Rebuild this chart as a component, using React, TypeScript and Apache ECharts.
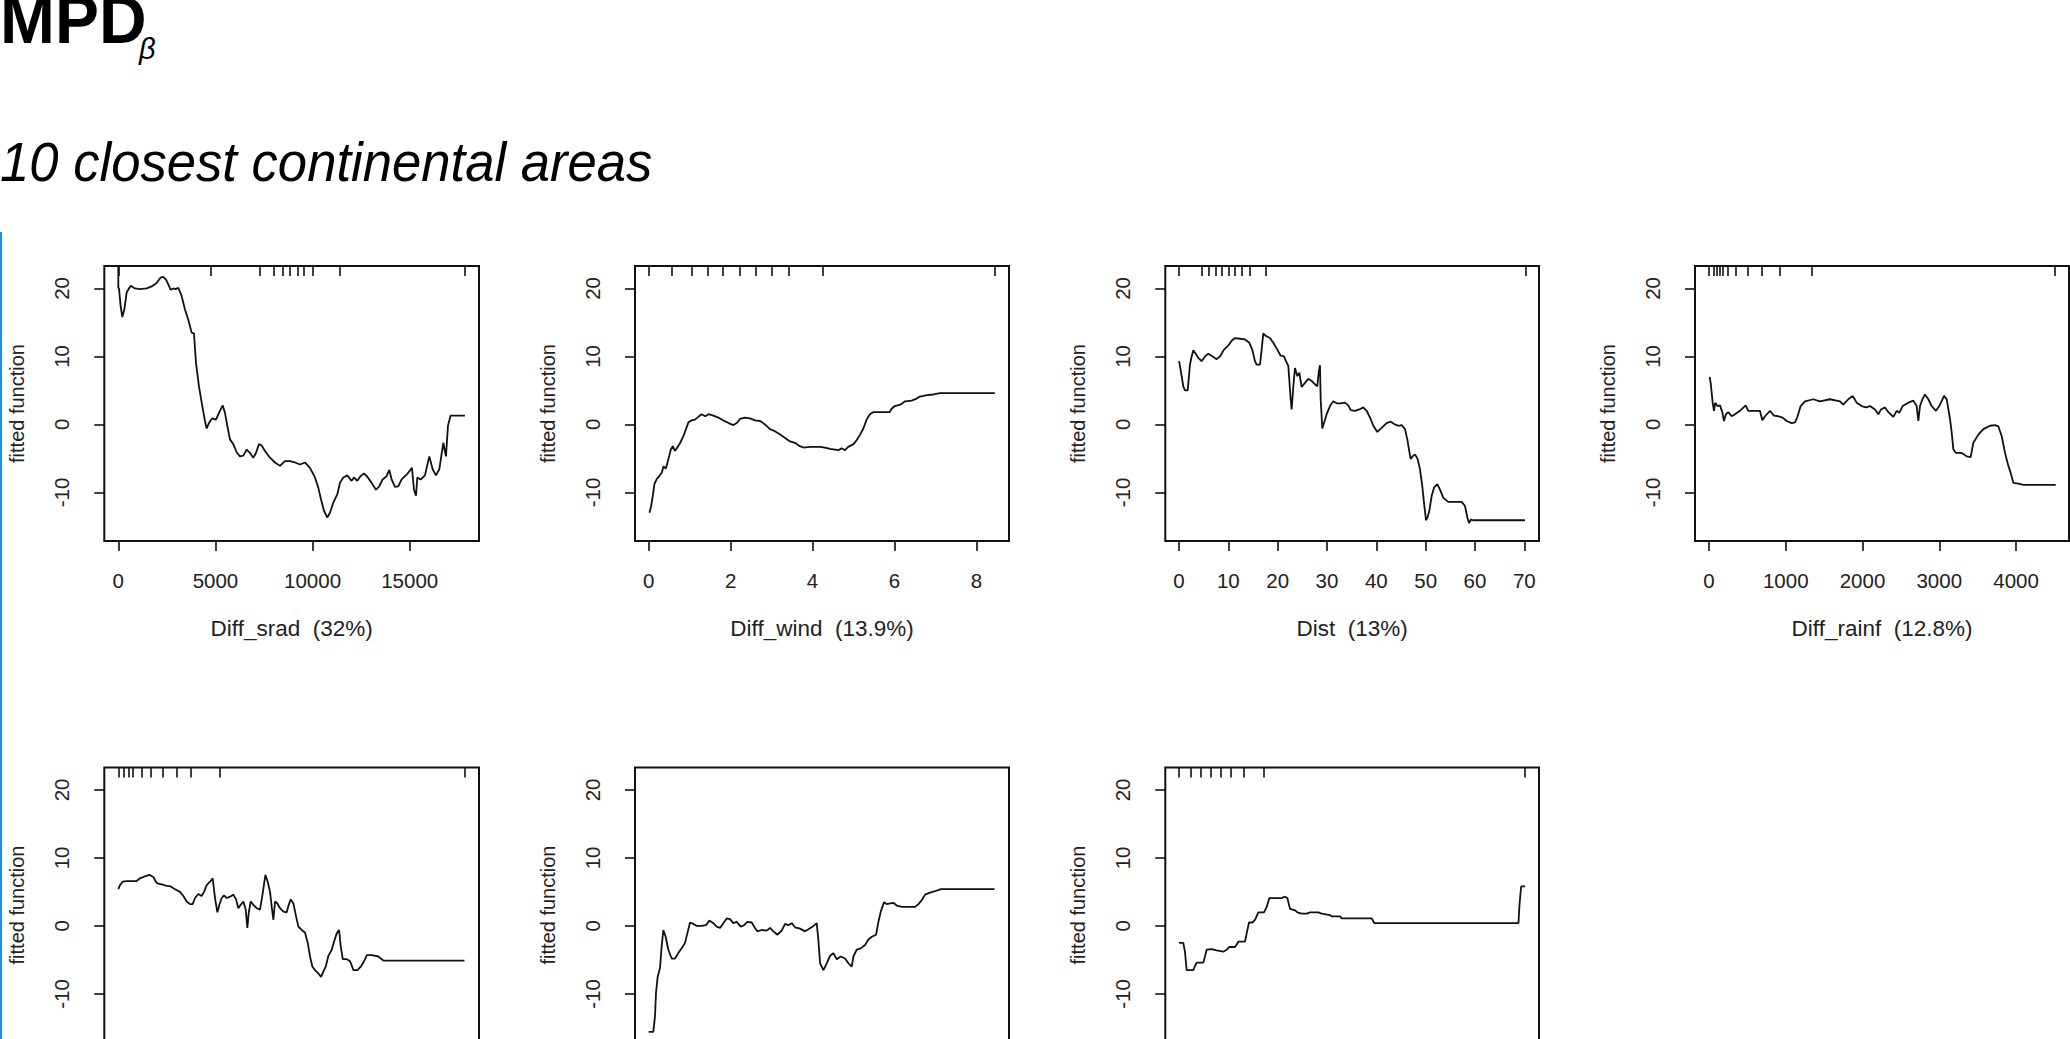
import React, { useEffect, useRef } from "react";
import * as echarts from "echarts";

const FONT = '"Liberation Sans", Arial, Helvetica, sans-serif';
const TEXT_COLOR = "#222";

// ---------- Panel 1: Diff_srad ----------
const sradX = [0, 0, 34, 120, 206, 309, 429, 635, 858, 1115, 1459, 1716, 1973, 2179, 2317, 2454, 2574, 2694, 2831, 2952, 3089, 3260, 3432, 3604, 3775, 3895, 3998, 4153, 4324, 4462, 4547, 4685, 4839, 5028, 5182, 5371, 5491, 5611, 5749, 5920, 6092, 6263, 6435, 6607, 6778, 6950, 7087, 7242, 7379, 7550, 7808, 8065, 8323, 8580, 8837, 9095, 9352, 9610, 9867, 10124, 10296, 10433, 10588, 10759, 10897, 11068, 11274, 11411, 11583, 11789, 12012, 12132, 12304, 12476, 12647, 12819, 13042, 13265, 13436, 13608, 13814, 13951, 14071, 14243, 14414, 14586, 14843, 15118, 15221, 15324, 15393, 15564, 15787, 16010, 16182, 16353, 16525, 16731, 16868, 16971, 17109, 17332, 17846];
const sradY = [23.6, 20.1, 20.0, 17.4, 15.8, 16.9, 19.4, 20.4, 20.0, 19.9, 20.0, 20.3, 20.8, 21.6, 21.7, 21.3, 20.6, 19.8, 20.0, 19.9, 20.1, 18.9, 16.9, 15.4, 13.5, 13.4, 9.1, 5.6, 2.7, 0.5, -0.6, 0.3, 0.9, 0.7, 1.7, 2.8, 1.7, -0.2, -2.2, -2.9, -4.1, -4.7, -4.6, -3.7, -4.2, -4.9, -4.2, -2.9, -3.1, -3.9, -4.9, -5.6, -6.1, -5.4, -5.4, -5.6, -5.9, -5.6, -6.4, -7.8, -9.3, -11.0, -12.7, -13.7, -13.0, -11.5, -10.3, -8.6, -7.8, -7.5, -8.3, -7.8, -8.3, -7.6, -7.2, -7.7, -8.6, -9.6, -9.1, -8.1, -7.6, -6.7, -8.1, -9.2, -9.1, -8.1, -7.4, -6.4, -9.6, -10.5, -7.8, -8.1, -7.5, -4.7, -6.6, -7.5, -6.6, -2.7, -4.7, -0.2, 1.3, 1.3, 1.3];
const sradRug = [0, 4770, 7293, 7980, 8460, 8837, 9232, 9558, 9987, 11411, 17812];
const sradTicks = [0, 5000, 10000, 15000];

// ---------- Panel 2: Diff_wind ----------
const windX = [0.02, 0.06, 0.1, 0.14, 0.2, 0.26, 0.32, 0.36, 0.42, 0.46, 0.5, 0.54, 0.59, 0.64, 0.7, 0.77, 0.85, 0.91, 0.97, 1.05, 1.13, 1.21, 1.29, 1.38, 1.46, 1.58, 1.7, 1.82, 1.95, 2.07, 2.15, 2.23, 2.35, 2.47, 2.6, 2.72, 2.84, 2.96, 3.08, 3.21, 3.33, 3.45, 3.57, 3.69, 3.78, 3.94, 4.18, 4.3, 4.43, 4.55, 4.63, 4.71, 4.79, 4.87, 5.0, 5.08, 5.16, 5.24, 5.32, 5.4, 5.48, 5.65, 5.88, 5.93, 6.01, 6.14, 6.26, 6.42, 6.54, 6.62, 6.79, 6.95, 7.11, 7.44, 8.45];
const windY = [-13.0, -12.0, -10.5, -8.8, -8.0, -7.6, -7.1, -6.2, -6.5, -5.6, -4.7, -3.7, -3.2, -3.9, -3.4, -2.7, -1.7, -0.7, 0.3, 0.6, 0.7, 1.1, 1.5, 1.2, 1.5, 1.3, 1.0, 0.6, 0.2, -0.1, 0.2, 0.8, 1.0, 0.9, 0.6, 0.5, 0.0, -0.7, -1.0, -1.5, -2.0, -2.5, -2.7, -3.2, -3.4, -3.3, -3.3, -3.4, -3.6, -3.7, -3.8, -3.5, -3.8, -3.3, -2.9, -2.3, -1.5, -0.6, 0.7, 1.5, 1.8, 1.8, 1.8, 2.3, 2.7, 2.9, 3.4, 3.5, 3.8, 4.1, 4.3, 4.4, 4.6, 4.6, 4.6];
const windRug = [0, 0.56, 1.05, 1.44, 1.82, 2.23, 2.61, 3.0, 3.43, 4.26, 8.44];
const windTicks = [0, 2, 4, 6, 8];

// ---------- Panel 3: Dist ----------
const distX = [0, 0.2, 0.54, 0.88, 1.22, 1.76, 2.03, 2.23, 2.57, 2.91, 3.38, 3.92, 4.59, 5.27, 5.95, 6.82, 7.64, 8.31, 9.12, 10.0, 10.68, 11.35, 12.36, 13.38, 14.26, 14.86, 15.41, 15.74, 16.42, 16.76, 17.09, 17.64, 18.45, 19.12, 19.93, 20.61, 21.28, 21.69, 22.16, 22.36, 22.64, 22.84, 23.18, 23.51, 23.99, 24.39, 24.86, 25.54, 26.22, 26.89, 27.57, 28.04, 28.31, 28.58, 28.72, 29.05, 29.39, 29.93, 30.61, 31.28, 31.96, 32.77, 33.65, 34.32, 34.8, 35.68, 36.55, 37.36, 38.04, 38.72, 39.39, 40.2, 41.08, 42.09, 42.91, 43.78, 44.46, 45.14, 45.81, 46.28, 46.62, 46.96, 47.36, 47.84, 48.38, 48.85, 49.32, 49.66, 50.07, 50.41, 50.74, 51.22, 51.69, 52.36, 52.91, 53.58, 54.59, 55.61, 57.3, 57.97, 58.45, 58.78, 59.19, 59.66, 63.04, 70.14];
const distY = [9.3, 8.6, 7.1, 5.6, 5.0, 5.0, 7.1, 8.8, 10.0, 10.9, 10.4, 9.8, 9.3, 10.0, 10.4, 10.0, 9.6, 10.0, 11.0, 11.6, 12.3, 12.7, 12.6, 12.5, 12.0, 11.0, 9.3, 8.8, 8.8, 11.0, 13.4, 13.0, 12.7, 12.0, 11.0, 10.1, 10.0, 9.3, 8.6, 6.6, 3.7, 2.2, 5.6, 8.3, 7.1, 7.6, 5.5, 6.1, 6.7, 6.4, 5.9, 5.6, 7.6, 8.7, 3.7, -0.6, 0.2, 1.5, 2.7, 3.4, 3.1, 3.1, 3.2, 2.8, 2.1, 2.0, 2.2, 2.5, 2.0, 1.0, -0.2, -1.1, -0.5, 0.2, 0.4, 0.0, -0.2, -0.1, -0.7, -2.2, -3.7, -5.1, -4.7, -4.4, -5.1, -6.6, -9.1, -11.5, -14.1, -13.6, -12.7, -10.5, -9.3, -8.8, -9.6, -10.8, -11.4, -11.4, -11.4, -12.0, -13.7, -14.5, -14.0, -14.1, -14.1, -14.1];
const distRug = [0, 4.64, 6.08, 7.4, 8.7, 10.1, 11.4, 12.8, 14.4, 17.5, 70.2];
const distTicks = [0, 10, 20, 30, 40, 50, 60, 70];

// ---------- Panel 4: Diff_rainf ----------
const rainX = [9, 22, 35, 48, 65, 82, 109, 143, 174, 195, 221, 252, 295, 339, 404, 478, 512, 578, 664, 695, 730, 795, 847, 903, 960, 1012, 1077, 1121, 1155, 1194, 1251, 1359, 1446, 1576, 1707, 1750, 1815, 1872, 1924, 1989, 2046, 2098, 2163, 2206, 2241, 2293, 2337, 2402, 2445, 2480, 2523, 2597, 2662, 2706, 2727, 2749, 2780, 2814, 2858, 2901, 2958, 3010, 3062, 3097, 3119, 3141, 3162, 3184, 3218, 3292, 3357, 3409, 3444, 3509, 3574, 3661, 3726, 3770, 3813, 3857, 3900, 3930, 3965, 4030, 4095, 4517];
const rainY = [7.0, 6.1, 4.7, 3.2, 2.0, 3.2, 2.7, 2.8, 1.8, 0.5, 1.5, 1.8, 1.2, 1.5, 2.0, 2.8, 2.0, 2.0, 2.0, 0.6, 1.2, 2.0, 1.3, 1.2, 1.0, 0.5, 0.2, 0.3, 1.2, 2.7, 3.4, 3.7, 3.4, 3.7, 3.4, 2.9, 3.7, 4.2, 3.2, 2.7, 2.5, 2.7, 2.2, 1.5, 2.2, 2.5, 1.8, 1.1, 2.0, 1.7, 2.7, 3.2, 3.5, 2.7, 0.5, 2.7, 3.7, 4.4, 3.7, 2.7, 2.0, 2.9, 4.2, 3.7, 2.2, 0.7, -1.2, -3.7, -4.2, -4.2, -4.7, -4.8, -2.7, -1.5, -0.7, -0.2, -0.1, -0.3, -1.7, -4.2, -6.1, -7.1, -8.6, -8.7, -8.9, -8.9];
const rainRug = [0, 56, 100, 143, 186, 244, 348, 504, 687, 925, 1338, 4508];
const rainTicks = [0, 1000, 2000, 3000, 4000];

// ---------- Panel 5 (row 2, x axis cut off; position in % of range) ----------
const p5X = [0, 0.48, 1.25, 2.41, 3.85, 5.3, 6.26, 7.71, 8.96, 10.12, 11.08, 12.52, 13.97, 15.13, 16.38, 17.82, 18.79, 19.75, 20.71, 21.48, 22.16, 23.12, 24.08, 24.76, 25.53, 26.49, 27.26, 27.94, 28.61, 29.19, 29.87, 30.54, 31.31, 32.27, 33.24, 34.01, 34.68, 35.36, 36.13, 36.8, 37.28, 37.67, 38.25, 39.02, 39.98, 40.94, 41.71, 42.49, 43.16, 43.83, 44.32, 44.8, 45.28, 45.95, 46.72, 47.69, 48.65, 49.23, 49.81, 50.58, 51.35, 52.02, 52.99, 53.95, 54.72, 55.39, 56.07, 56.84, 57.8, 58.57, 59.25, 59.92, 60.69, 61.66, 62.33, 63.1, 63.78, 64.26, 64.84, 65.99, 66.96, 67.92, 69.08, 70.04, 71.0, 71.77, 73.22, 75.14, 76.59, 81.41, 100];
const p5Y = [5.4, 6.0, 6.5, 6.6, 6.6, 6.6, 7.0, 7.3, 7.5, 7.2, 6.3, 6.1, 5.9, 5.8, 5.4, 5.0, 4.4, 3.6, 3.2, 3.2, 4.1, 4.7, 4.4, 5.0, 6.0, 6.5, 7.0, 4.1, 2.0, 3.1, 4.1, 4.5, 4.1, 4.3, 4.6, 3.9, 2.6, 3.1, 3.6, 2.4, -0.3, 1.9, 3.6, 3.1, 2.6, 2.4, 4.8, 7.5, 6.5, 5.0, 2.8, 0.9, 3.6, 3.3, 2.6, 2.1, 2.0, 3.1, 3.9, 3.3, 1.4, -0.1, -0.6, -1.0, -2.5, -4.5, -6.0, -6.5, -7.0, -7.5, -6.7, -6.0, -4.4, -3.5, -2.3, -1.1, -0.6, -3.0, -4.9, -4.9, -5.2, -6.5, -6.5, -6.0, -5.2, -4.3, -4.3, -4.5, -5.1, -5.1, -5.1];
const p5Rug = [0, 1.45, 2.9, 4.3, 6.8, 9.4, 12.9, 16.9, 21.0, 29.2, 100];

// ---------- Panel 6 ----------
const p6X = [0, 1.35, 1.83, 2.12, 2.6, 3.28, 3.76, 4.24, 4.92, 5.69, 6.65, 7.62, 8.58, 9.55, 10.51, 11.19, 11.96, 12.92, 13.89, 15.33, 16.59, 17.55, 18.71, 19.67, 20.64, 21.6, 22.57, 23.53, 24.49, 25.46, 26.62, 27.58, 28.54, 29.8, 30.76, 31.44, 32.69, 34.14, 35.1, 36.07, 37.22, 38.48, 39.44, 40.41, 41.37, 42.33, 43.78, 45.23, 46.19, 47.44, 48.6, 49.08, 49.57, 50.53, 51.49, 52.46, 53.42, 54.39, 55.54, 56.8, 57.76, 58.73, 59.21, 60.17, 61.33, 62.58, 63.55, 64.51, 65.77, 66.44, 67.12, 68.08, 68.85, 69.82, 70.78, 71.75, 73.19, 75.6, 77.05, 78.01, 78.98, 79.94, 81.39, 82.84, 84.48, 88.14, 100];
const p6Y = [-15.6, -15.6, -13.3, -9.9, -7.5, -6.2, -3.0, -0.6, -1.6, -3.5, -4.8, -4.8, -4.0, -3.3, -2.5, -1.1, 0.5, 0.3, 0.0, 0.0, 0.1, 0.8, 0.4, -0.1, -0.3, 0.4, 1.1, 1.0, 0.4, 0.6, -0.1, 0.1, 0.6, 0.5, -0.3, -0.8, -0.6, -0.7, -0.3, -0.8, -1.3, -0.7, 0.3, 0.1, 0.4, -0.2, -0.4, -0.8, -0.5, -0.1, 0.4, -2.1, -5.5, -6.5, -5.5, -4.4, -4.0, -4.9, -4.5, -4.8, -5.5, -6.0, -4.5, -3.5, -3.3, -2.8, -2.0, -1.6, -1.3, 0.6, 2.1, 3.5, 3.2, 3.3, 3.4, 3.0, 2.8, 2.8, 2.8, 3.2, 3.8, 4.6, 4.9, 5.1, 5.4, 5.4, 5.4];
const p6Rug: number[] = [];

// ---------- Panel 7 ----------
const p7X = [0, 1.25, 1.73, 2.22, 4.14, 4.62, 5.11, 7.03, 7.51, 8.0, 9.44, 10.89, 12.81, 13.78, 14.55, 16.18, 16.86, 17.15, 19.08, 19.56, 20.23, 21.19, 21.97, 22.93, 24.57, 25.34, 26.11, 29.67, 30.64, 31.31, 32.08, 33.53, 34.2, 35.45, 36.9, 37.86, 40.27, 41.23, 43.64, 44.12, 46.53, 47.01, 55.68, 56.45, 98.07, 98.36, 98.84, 100];
const p7Y = [-2.5, -2.5, -3.8, -6.5, -6.5, -5.9, -5.4, -5.4, -4.5, -3.5, -3.4, -3.6, -3.8, -3.5, -3.1, -3.1, -2.6, -2.3, -2.3, -1.1, 0.5, 0.5, 0.9, 2.0, 2.0, 2.8, 4.1, 4.1, 4.3, 4.1, 2.5, 2.3, 2.0, 1.8, 1.8, 2.0, 2.0, 1.8, 1.6, 1.4, 1.4, 1.1, 1.1, 0.4, 0.4, 3.1, 5.8, 5.8];
const p7Rug = [0, 3.4, 6.4, 9.2, 12.1, 15.0, 18.6, 24.4, 100];

const yTicks = [-10, 0, 10, 20];
const yTitle = "fitted function";

type Panel = {
  left: number; top: number; width: number; height: number;
  xMin: number; xMax: number; xTicks: number[]; xName: string;
  xs: number[]; ys: number[]; rug: number[]; showBottom: boolean;
};

const ROW1 = 266;
const ROW2 = 767.5;
const H = 275;

const panels: Panel[] = [
  { left: 104.3, top: ROW1, width: 374.7, height: H, xMin: -721, xMax: 18569, xTicks: sradTicks, xName: "Diff_srad  (32%)", xs: sradX, ys: sradY, rug: sradRug, showBottom: true },
  { left: 635, top: ROW1, width: 374, height: H, xMin: -0.334, xMax: 8.796, xTicks: windTicks, xName: "Diff_wind  (13.9%)", xs: windX, ys: windY, rug: windRug, showBottom: true },
  { left: 1165.3, top: ROW1, width: 373.7, height: H, xMin: -2.77, xMax: 72.97, xTicks: distTicks, xName: "Dist  (13%)", xs: distX, ys: distY, rug: distRug, showBottom: true },
  { left: 1695, top: ROW1, width: 374, height: H, xMin: -182, xMax: 4690, xTicks: rainTicks, xName: "Diff_rainf  (12.8%)", xs: rainX, ys: rainY, rug: rainRug, showBottom: true },
  { left: 104.3, top: ROW2, width: 374.7, height: H, xMin: -4.05, xMax: 104.2, xTicks: [], xName: "", xs: p5X, ys: p5Y, rug: p5Rug, showBottom: false },
  { left: 635, top: ROW2, width: 374, height: H, xMin: -3.95, xMax: 104.2, xTicks: [], xName: "", xs: p6X, ys: p6Y, rug: p6Rug, showBottom: false },
  { left: 1165.3, top: ROW2, width: 373.7, height: H, xMin: -3.95, xMax: 104.0, xTicks: [], xName: "", xs: p7X, ys: p7Y, rug: p7Rug, showBottom: false },
];

function buildOption() {
  const grid: any[] = [];
  const xAxis: any[] = [];
  const yAxis: any[] = [];
  const series: any[] = [];

  panels.forEach((p, i) => {
    grid.push({
      left: p.left, top: p.top, width: p.width, height: p.height,
      show: true, borderColor: "#111", borderWidth: 2, backgroundColor: "transparent",
      containLabel: false, outerBoundsMode: "none",
    });
    // bottom axis
    xAxis.push({
      type: "value", gridIndex: i, position: "bottom", min: p.xMin, max: p.xMax,
      axisLine: { show: false, onZero: false },
      splitLine: { show: false },
      axisTick: { show: p.showBottom, customValues: p.xTicks, length: 10, inside: false, lineStyle: { color: "#111", width: 1.6 } },
      axisLabel: {
        show: p.showBottom, customValues: p.xTicks, margin: 29,
        fontFamily: FONT, fontSize: 20.5, color: TEXT_COLOR,
        formatter: (v: number) => String(v),
      },
      name: p.xName, nameLocation: "middle", nameGap: 76,
      nameTextStyle: { fontFamily: FONT, fontSize: 22.5, color: TEXT_COLOR },
    });
    // top rug axis
    xAxis.push({
      type: "value", gridIndex: i, position: "top", min: p.xMin, max: p.xMax,
      axisLine: { show: false, onZero: false },
      splitLine: { show: false },
      axisTick: { show: p.rug.length > 0, customValues: p.rug, length: 10, inside: true, lineStyle: { color: "#111", width: 1.6 } },
      axisLabel: { show: false },
    });
    yAxis.push({
      type: "value", gridIndex: i, min: -17.15, max: 23.3,
      axisLine: { show: false, onZero: false },
      splitLine: { show: false },
      axisTick: { show: true, customValues: yTicks, length: 10, inside: false, lineStyle: { color: "#111", width: 1.6 } },
      axisLabel: {
        show: true, customValues: yTicks, rotate: 90, margin: 32,
        fontFamily: FONT, fontSize: 20.5, color: TEXT_COLOR,
        formatter: (v: number) => String(v),
      },
      name: yTitle, nameLocation: "middle", nameGap: 77,
      nameTextStyle: { fontFamily: FONT, fontSize: 20, color: TEXT_COLOR },
    });
    series.push({
      type: "line",
      xAxisIndex: i * 2,
      yAxisIndex: i,
      data: p.xs.map((x, k) => [x, p.ys[k]]),
      showSymbol: false,
      symbol: "none",
      clip: true,
      lineStyle: { color: "#111", width: 1.8 },
      emphasis: { disabled: true },
      silent: true,
    });
  });

  const graphic: any[] = [
    {
      type: "text", x: 0, y: 0, scaleX: 0.97,
      style: { text: "MPD", x: 0, y: 53, font: `bold 68px ${FONT}`, fill: "#000", textVerticalAlign: "bottom" },
    },
    {
      type: "text", x: 0, y: 0,
      style: { text: "β", x: 139, y: 63, font: `italic 29px ${FONT}`, fill: "#000", textVerticalAlign: "bottom" },
    },
    {
      type: "text", x: 0, y: 0, scaleX: 0.94,
      style: { text: "10 closest continental areas", x: 0, y: 190, font: `italic 56px ${FONT}`, fill: "#000", textVerticalAlign: "bottom" },
    },
    {
      type: "line",
      shape: { x1: 1, y1: 232, x2: 1, y2: 1039 },
      style: { stroke: "#1f8de6", lineWidth: 2 },
    },
  ];

  return {
    animation: false,
    backgroundColor: "#ffffff",
    grid, xAxis, yAxis, series, graphic,
  };
}

export default function App() {
  const ref = useRef<HTMLDivElement>(null);
  useEffect(() => {
    if (!ref.current) return;
    const chart = echarts.init(ref.current, undefined, { renderer: "svg" });
    chart.setOption(buildOption() as any);
    return () => chart.dispose();
  }, []);
  return (
    <div
      ref={ref}
      style={{ position: "absolute", left: 0, top: 0, width: 2070, height: 1039, background: "#fff" }}
    />
  );
}
